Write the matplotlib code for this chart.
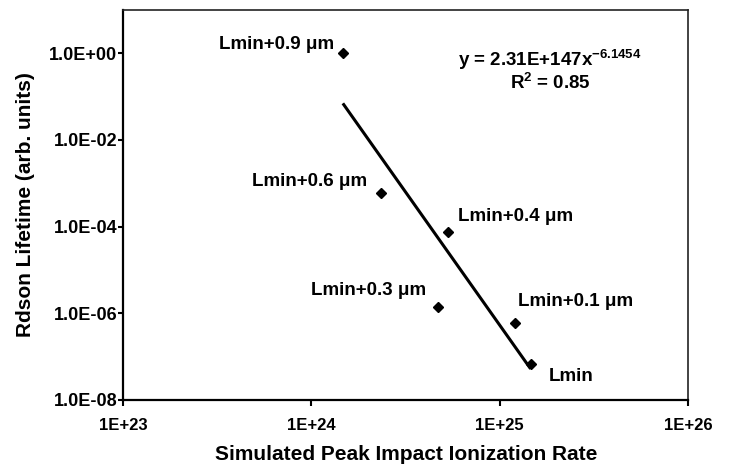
import matplotlib
matplotlib.use("Agg")
import matplotlib.pyplot as plt
import numpy as np
from matplotlib.ticker import FixedLocator, FixedFormatter, NullLocator

plt.rcParams['font.family'] = ['Liberation Sans', 'DejaVu Sans']
plt.rcParams['font.weight'] = 'bold'
plt.rcParams['mathtext.default'] = 'regular'
plt.rcParams['axes.unicode_minus'] = False

# data
labels = ['Lmin+0.9 \u03bcm', 'Lmin+0.6 \u03bcm', 'Lmin+0.4 \u03bcm',
          'Lmin+0.3 \u03bcm', 'Lmin+0.1 \u03bcm', 'Lmin']
impact_rate = [1.47e24, 2.34e24, 5.34e24, 4.72e24, 1.21e25, 1.46e25]
lifetime = [1.0, 6.0e-4, 7.4e-5, 1.4e-6, 6.0e-7, 6.9e-8]

# power-law trendline y = a * x^b
fit_a = 2.31e147
fit_b = -6.1454
r_squared = 0.85

x_ticks = [1e23, 1e24, 1e25, 1e26]
x_ticklabels = ['1E+23', '1E+24', '1E+25', '1E+26']
y_ticks = [1e-8, 1e-6, 1e-4, 1e-2, 1e0]
y_ticklabels = ['1.0E-08', '1.0E-06', '1.0E-04', '1.0E-02', '1.0E+00']

# label placement (pixels from marker)
label_offsets = [(-9, 9, 'right'), (-14, 11, 'right'), (10, 16, 'left'),
                 (-12, 17, 'right'), (3, 21, 'left'), (18, -13, 'left')]

fig = plt.figure(figsize=(7.3, 4.71), dpi=100)
ax = fig.add_axes([123 / 730, 1 - 400 / 471, 565 / 730, 390 / 471])

ax.set_xscale('log')
ax.set_yscale('log')
ax.set_xlim(1e23, 1e26)
ax.set_ylim(1e-8, 1e1)

xs = np.logspace(np.log10(min(impact_rate)), np.log10(max(impact_rate)), 50)
ax.plot(xs, fit_a * xs ** fit_b, color='black', lw=2.2, solid_capstyle='butt')
ax.plot(impact_rate, lifetime, linestyle='none', marker='D', ms=5.6,
        color='black', zorder=3)

for x, y, lab, (dx, dy, ha) in zip(impact_rate, lifetime, labels, label_offsets):
    ax.annotate(lab, (x, y), xytext=(dx, dy), textcoords='offset pixels',
                ha=ha, va='center', fontsize=13.5, fontweight='bold')

ax.text(0.756, 0.872, 'y = 2.31E+147x$^{-6.1454}$', transform=ax.transAxes,
        ha='center', va='center', fontsize=13.5, fontweight='bold')
ax.text(0.756, 0.814, 'R$^{2}$ = %.2f' % r_squared, transform=ax.transAxes,
        ha='center', va='center', fontsize=13.5, fontweight='bold')

ax.xaxis.set_major_locator(FixedLocator(x_ticks))
ax.xaxis.set_major_formatter(FixedFormatter(x_ticklabels))
ax.yaxis.set_major_locator(FixedLocator(y_ticks))
ax.yaxis.set_major_formatter(FixedFormatter(y_ticklabels))
ax.xaxis.set_minor_locator(NullLocator())
ax.yaxis.set_minor_locator(NullLocator())

ax.tick_params(axis='x', direction='out', length=4, width=1.5, pad=9, labelsize=12)
ax.tick_params(axis='y', direction='out', length=3.8, width=1.5, pad=0.5, labelsize=13)
for lab in ax.get_xticklabels() + ax.get_yticklabels():
    lab.set_fontweight('bold')

for side in ['left', 'bottom']:
    ax.spines[side].set_linewidth(1.6)
    ax.spines[side].set_color('black')
for side in ['top', 'right']:
    ax.spines[side].set_linewidth(1.2)
    ax.spines[side].set_color('#222222')

fig.text(26 / 730, 1 - 205 / 471, 'Rdson Lifetime (arb. units)', rotation=90,
         ha='center', va='center', fontsize=15, fontweight='bold')
fig.text(406 / 730, 1 - 455 / 471, 'Simulated Peak Impact Ionization Rate',
         ha='center', va='center', fontsize=15, fontweight='bold')

fig.savefig('out.png', dpi=100)
